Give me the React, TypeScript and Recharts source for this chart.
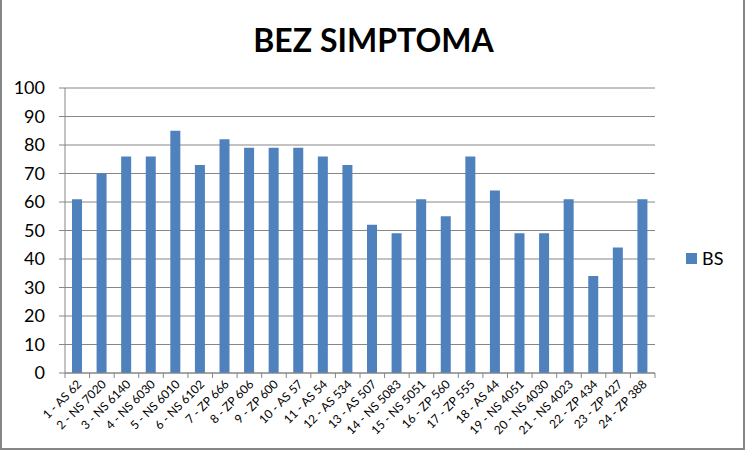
import { BarChart, Bar, XAxis, YAxis, CartesianGrid, Legend } from 'recharts';

const categories = [
  '1 - AS 62', '2 - NS 7020', '3 - NS 6140', '4 - NS 6030', '5 - NS 6010', '6 - NS 6102',
  '7 - ZP 666', '8 - ZP 606', '9 - ZP 600', '10 - AS 57', '11 - AS 54', '12 - AS 534',
  '13 - AS 507', '14 - NS 5083', '15 - NS 5051', '16 - ZP 560', '17 - ZP 555', '18 - AS 44',
  '19 - NS 4051', '20 - NS 4030', '21 - NS 4023', '22 - ZP 434', '23 - ZP 427', '24 - ZP 388',
];
const bsValues = [61, 70, 76, 76, 85, 73, 82, 79, 79, 79, 76, 73, 52, 49, 61, 55, 76, 64, 49, 49, 61, 34, 44, 61];
const yTicks = [0, 10, 20, 30, 40, 50, 60, 70, 80, 90, 100];

const data = categories.map((name, i) => ({ name, BS: bsValues[i] }));

const FONT = 'Lato, "Open Sans", sans-serif';
const AXIS_GRAY = '#868686';

function CategoryTick(props: any): React.ReactElement {
  const { x, y, payload, index } = props;
  const half = 590 / categories.length / 2;
  return (
    <g>
      {index === 0 && <line x1={x - half} y1={y - 8} x2={x - half} y2={y - 3} stroke={AXIS_GRAY} />}
      <line x1={x + half} y1={y - 8} x2={x + half} y2={y - 3} stroke={AXIS_GRAY} />
      <text
        x={x + 5}
        y={y + 4}
        transform={`rotate(-45 ${x + 5} ${y + 4})`}
        textAnchor="end"
        fontSize={12}
        fontFamily={FONT}
        fill="#000"
      >
        {payload.value}
      </text>
    </g>
  );
}

function LegendContent(): React.ReactElement {
  return (
    <div style={{ display: 'flex', alignItems: 'center', fontFamily: FONT, fontSize: 18, color: '#000' }}>
      <span style={{ display: 'inline-block', width: 11, height: 11, background: '#4F81BD', marginRight: 5 }} />
      BS
    </div>
  );
}

export default function App(): React.ReactElement {
  return (
    <div
      style={{
        position: 'absolute',
        left: 0,
        top: 0,
        width: 747,
        height: 452,
        background: '#fff',
      }}
    >
      <div
        style={{
          position: 'absolute',
          left: 0,
          top: 0,
          width: 745,
          height: 450,
          borderLeft: `2px solid ${AXIS_GRAY}`,
          borderRight: `2px solid ${AXIS_GRAY}`,
          borderBottom: `2px solid ${AXIS_GRAY}`,
          boxSizing: 'border-box',
        }}
      />
      <div
        style={{
          position: 'absolute',
          left: 0,
          top: 20,
          width: 747,
          textAlign: 'center',
          fontFamily: FONT,
          fontWeight: 'bold',
          fontSize: 32,
          color: '#000',
        }}
      >
        BEZ SIMPTOMA
      </div>
      <div style={{ position: 'absolute', left: 0, top: 0 }}>
        <BarChart width={747} height={452} data={data} margin={{ top: 88, right: 42, bottom: 0, left: 0 }}>
          <CartesianGrid vertical={false} stroke={AXIS_GRAY} strokeDasharray="" />
          <XAxis
            dataKey="name"
            interval={0}
            height={79}
            stroke={AXIS_GRAY}
            tickLine={false}
            tick={<CategoryTick />}
          />
          <YAxis
            domain={[0, 100]}
            ticks={yTicks}
            width={65}
            stroke={AXIS_GRAY}
            tickSize={6}
            tickMargin={14}
            tick={{ fill: '#000', fontSize: 18, fontFamily: FONT }}
          />
          <Legend
            layout="vertical"
            align="right"
            verticalAlign="middle"
            content={<LegendContent />}
            wrapperStyle={{ position: 'absolute', left: 686, top: 247, width: 50 }}
          />
          <Bar dataKey="BS" fill="#4F81BD" barSize={10} isAnimationActive={false} />
        </BarChart>
      </div>
    </div>
  );
}
